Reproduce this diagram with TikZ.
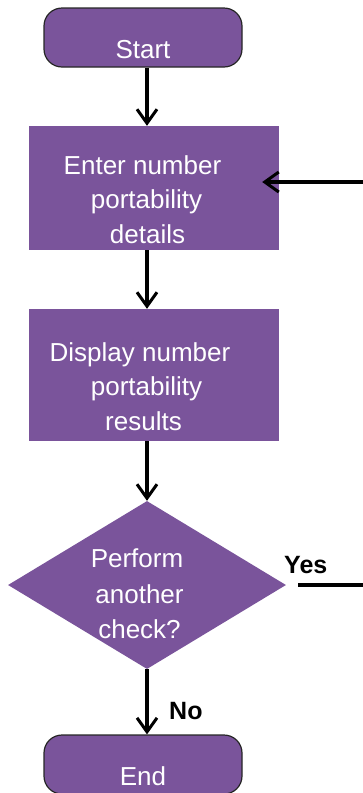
\documentclass[tikz,border=0pt]{standalone}
\usepackage{fontspec}
\setmainfont{Liberation Sans}
\usetikzlibrary{shapes.geometric,arrows.meta}
\definecolor{procfill}{RGB}{122,84,155}
\tikzset{
  termbox/.style={draw=black!85, line width=1.2pt, fill=procfill, rounded corners=18pt,
    minimum width=198pt, minimum height=59pt, inner sep=0pt},
  procbox/.style={fill=procfill, minimum width=250pt, inner sep=0pt},
  decbox/.style={diamond, fill=procfill, minimum width=278pt, minimum height=168pt, inner sep=0pt},
  txt/.style={text=white, font=\fontsize{26}{30}\selectfont, anchor=base, inner sep=0pt},
  lab/.style={text=black, font=\fontsize{25}{30}\selectfont\bfseries, anchor=base west, inner sep=0pt},
  flow/.style={line width=3.5pt, -{Straight Barb[length=14pt,width=20pt,line width=3pt]}},
  wire/.style={line width=3.5pt}
}
\begin{document}
\begin{tikzpicture}[x=1pt,y=-1pt]
  \path[use as bounding box] (0,0) rectangle (363,793);
  \clip (0,0) rectangle (363,793);

  % spine of the main flow and the right edge of the loop
  \coordinate (spine) at (147,0);
  \coordinate (edge) at (363,0);

  % shapes
  \node[termbox] (start) at (143,37.5) {};
  \node[procbox, minimum height=124pt] (enter) at (154,188) {};
  \node[procbox, minimum height=132pt] (show) at (154,375) {};
  \node[decbox] (check) at (147,585) {};
  \node[termbox] (stop) at (143,764.5) {};

  % texts
  \node[txt] (startT) at (143,58) {Start};
  \node[txt] (enterA) at (142.5,174) {Enter number};
  \node[txt] (enterB) at (146.5,208.5) {portability};
  \node[txt] (enterC) at (147.5,243) {details};
  \node[txt] (showA) at (140,361) {Display number};
  \node[txt] (showB) at (146.5,395.5) {portability};
  \node[txt] (showC) at (143.5,430) {results};
  \node[txt] (checkA) at (137,567) {Perform};
  \node[txt] (checkB) at (139.5,603) {another};
  \node[txt] (checkC) at (139.5,638) {check?};
  \node[txt] (stopT) at (143,785) {End};
  \node[lab] (yes) at (284,573) {Yes};
  \node[lab] (no) at (169,719) {No};

  % connectors
  \draw[flow] (start.south -| spine) -- (enter.north -| spine);
  \draw[flow] (enter.south -| spine) -- (show.north -| spine);
  \draw[flow] (show.south -| spine) -- (check.north);
  \draw[flow] (check.south) -- (stop.north -| spine);
  \coordinate (yesA) at ([xshift=12pt]check.east);
  \draw[wire] (yesA) -- (yesA -| edge);
  \coordinate (back) at ([yshift=6pt]enter.east);
  \draw[flow] (back -| edge) -- ([xshift=-17pt]back);
\end{tikzpicture}
\end{document}
